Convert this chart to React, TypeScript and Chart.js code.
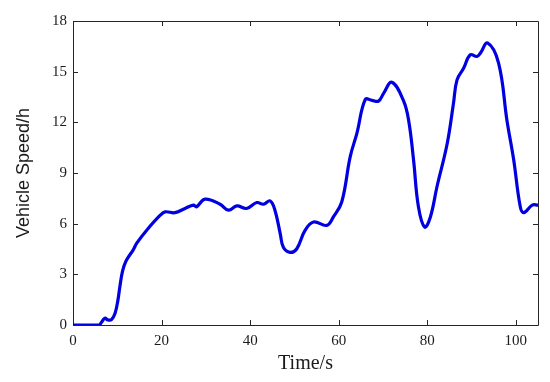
import React, { useEffect, useRef } from "react";
import { Chart, registerables } from "chart.js";

Chart.register(...registerables);

const timeS = [
  0, 5.9, 6.4, 7.2, 7.9, 8.7, 9.5, 10.1, 10.6, 11.2, 12.0, 13.6, 14.4, 16.6, 19.7, 20.8, 23.0, 25.3,
  27.2, 27.9, 29.8, 33.2, 35.1, 37.0, 39.2, 41.5, 43.0, 44.5, 45.6, 46.8, 47.5, 49.0, 50.5, 52.4,
  54.3, 57.3, 58.8, 60.7, 62.6, 64.1, 66.0, 67.5, 69.0, 70.1, 72.0, 74.6, 75.8, 76.9, 78.0, 79.4,
  80.7, 82.2, 84.5, 85.9, 86.7, 88.2, 89.7, 91.2, 92.0, 93.6, 96.1, 98.0, 99.5, 101.0, 101.8, 103.7,
  105,
];
const speed = [
  0, 0, 0.15, 0.4, 0.3, 0.32, 0.7, 1.4, 2.3, 3.2, 3.8, 4.45, 4.85, 5.6, 6.5, 6.7, 6.65, 6.9,
  7.1, 7.0, 7.45, 7.15, 6.8, 7.05, 6.9, 7.25, 7.15, 7.35, 6.8, 5.4, 4.6, 4.3, 4.5, 5.6,
  6.1, 5.9, 6.4, 7.3, 9.97, 11.35, 13.36, 13.3, 13.26, 13.7, 14.37, 13.3, 12.1, 9.77, 7.0, 5.8,
  6.4, 8.2, 10.75, 13.1, 14.5, 15.2, 16.0, 15.9, 16.1, 16.7, 15.5, 12.1, 9.8, 7.0, 6.65, 7.1,
  7.1,
];
const xTicks = [0, 20, 40, 60, 80, 100];
const yTicks = [0, 3, 6, 9, 12, 15, 18];

const AXIS_COLOR = "#262626";

const boxPlugin = {
  id: "matlabBox",
  beforeDatasetsDraw(chart: any) {
    const { ctx, chartArea } = chart;
    const { left, right, top, bottom } = chartArea;
    const xs = chart.scales.x;
    const ys = chart.scales.y;
    const tl = 5;
    ctx.save();
    ctx.strokeStyle = AXIS_COLOR;
    ctx.lineWidth = 1;
    ctx.beginPath();
    ctx.rect(Math.round(left) + 0.5, Math.round(top) + 0.5, Math.round(right - left), Math.round(bottom - top));
    for (const v of xTicks) {
      const px = Math.round(xs.getPixelForValue(v)) + 0.5;
      ctx.moveTo(px, bottom);
      ctx.lineTo(px, bottom - tl);
      ctx.moveTo(px, top);
      ctx.lineTo(px, top + tl);
    }
    for (const v of yTicks) {
      const py = Math.round(ys.getPixelForValue(v)) + 0.5;
      ctx.moveTo(left, py);
      ctx.lineTo(left + tl, py);
      ctx.moveTo(right, py);
      ctx.lineTo(right - tl, py);
    }
    ctx.stroke();
    ctx.restore();
  },
};

export default function App() {
  const ref = useRef<HTMLCanvasElement | null>(null);
  useEffect(() => {
    if (!ref.current) return;
    const chart = new Chart(ref.current, {
      type: "line",
      data: {
        datasets: [
          {
            data: timeS.map((t, i) => ({ x: t, y: speed[i] })),
            borderColor: "rgb(0,0,225)",
            borderWidth: 3.2,
            pointRadius: 0,
            tension: 0.4,
            fill: false,
          },
        ],
      },
      options: {
        animation: false,
        responsive: true,
        maintainAspectRatio: false,
        layout: { padding: { top: 21, right: 12, left: 0, bottom: 0 } },
        plugins: { legend: { display: false }, tooltip: { enabled: false } },
        scales: {
          x: {
            type: "linear",
            min: 0,
            max: 105,
            afterBuildTicks: (s: any) => {
              s.ticks = xTicks.map((v) => ({ value: v }));
            },
            afterFit: (s: any) => {
              s.height = 57;
            },
            grid: { display: false, drawTicks: false },
            border: { display: false },
            ticks: {
              padding: 7,
              color: "#1a1a1a",
              font: { family: "'Liberation Serif', 'Times New Roman', serif", size: 15 },
              maxRotation: 0,
            },
            title: {
              display: true,
              text: "Time/s",
              color: "#1a1a1a",
              font: { family: "'Liberation Serif', 'Times New Roman', serif", size: 20 },
              padding: { top: 0, bottom: 6 },
            },
          },
          y: {
            type: "linear",
            min: 0,
            max: 18,
            afterBuildTicks: (s: any) => {
              s.ticks = yTicks.map((v) => ({ value: v }));
            },
            afterFit: (s: any) => {
              s.width = 73;
            },
            grid: { display: false, drawTicks: false },
            border: { display: false },
            ticks: {
              padding: 6,
              color: "#1a1a1a",
              font: { family: "'Liberation Serif', 'Times New Roman', serif", size: 15 },
            },
            title: {
              display: true,
              text: "Vehicle Speed/h",
              color: "#1a1a1a",
              font: { family: "'Liberation Sans', Arial, sans-serif", size: 18 },
              padding: { top: 13, bottom: 0 },
            },
          },
        },
      },
      plugins: [boxPlugin],
    } as any);
    return () => chart.destroy();
  }, []);
  return (
    <div style={{ position: "absolute", left: 0, top: 0, width: 550, height: 382, background: "#fff" }}>
      <canvas ref={ref} />
    </div>
  );
}
